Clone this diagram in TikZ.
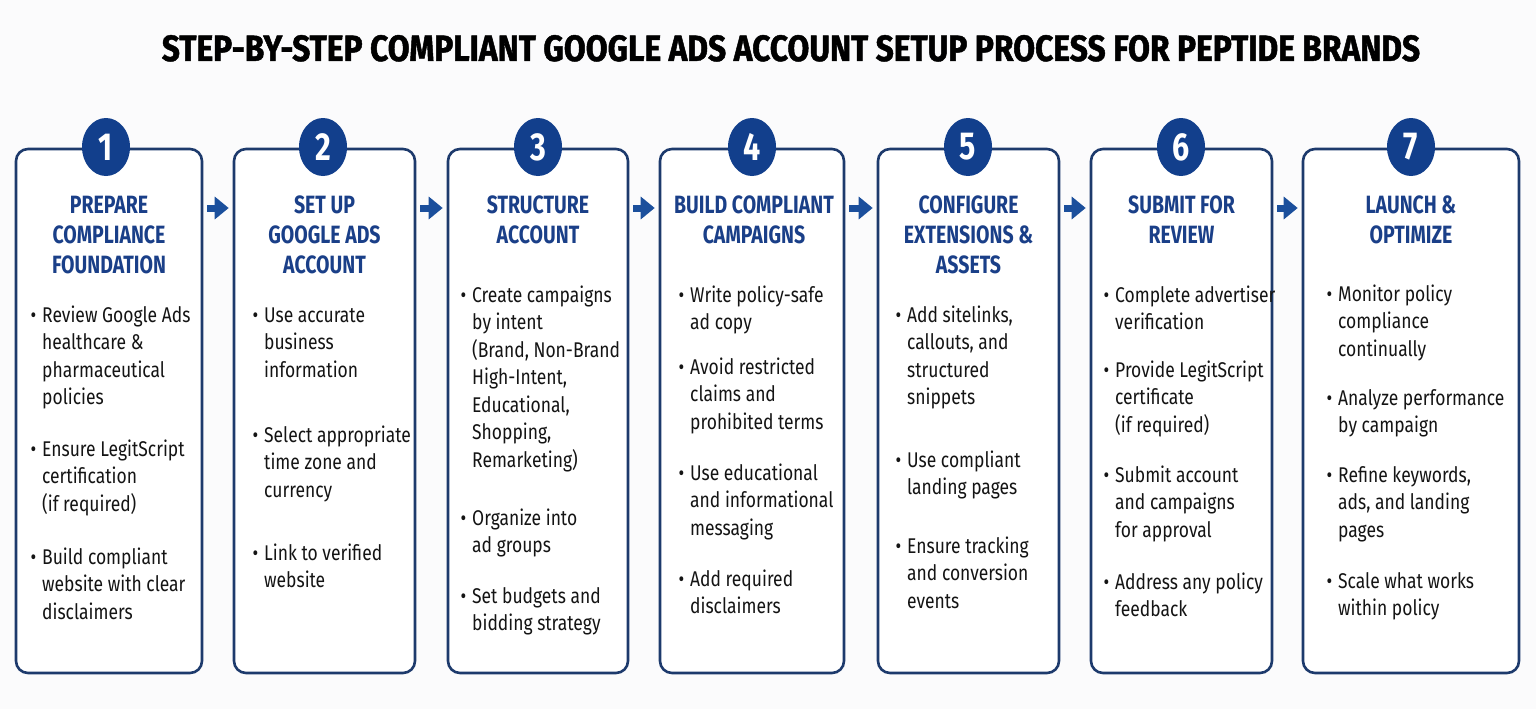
\documentclass[tikz,border=0pt]{standalone}
\usepackage{fontspec}
\usepackage{graphicx}
\usetikzlibrary{arrows.meta,shapes.geometric}
\setmainfont{Fira Sans}
\newfontfamily\headfont[FakeStretch=0.78]{Fira Sans}
\newfontfamily\titlefont[FakeStretch=0.78,FakeBold=1.2]{Fira Sans}
\newfontfamily\bodyfont[FakeStretch=0.82]{Fira Sans}
\definecolor{boxline}{HTML}{1D3A6C}
\definecolor{numblue}{HTML}{123F8C}
\definecolor{headblue}{HTML}{1A3F88}
\definecolor{arrowblue}{HTML}{1B4F9C}
\definecolor{bodyblack}{HTML}{141414}
\definecolor{bgcol}{HTML}{FBFBFC}
\newcommand{\bul}{\llap{\textbullet\hspace{6pt}}}
\tikzset{
  stepbox/.style={draw=boxline, line width=2.6pt, rounded corners=12pt, fill=white, minimum height=524pt, inner sep=0pt},
  num/.style={ellipse, fill=numblue, minimum width=48pt, minimum height=58pt, inner sep=0pt, text=white, font=\headfont\bfseries\fontsize{39}{39}\selectfont},
  head/.style={anchor=base, text=headblue, font=\headfont\bfseries\fontsize{25}{30}\selectfont, align=center, inner sep=0pt},
  item/.style={anchor=base west, text=bodyblack, font=\bodyfont\fontsize{21.3}{27.5}\selectfont, align=left, inner sep=0pt},
  flow/.style={draw=arrowblue, line width=7pt, -{Triangle[length=14pt, width=22pt]}},
}
\begin{document}
\begin{tikzpicture}[x=1pt, y=-1pt]
\fill[bgcol] (0,0) rectangle (1536,709);
\useasboundingbox (0,0) rectangle (1536,709);

\node[anchor=base] (title) at (791,61) {\resizebox{1258pt}{26pt}{\titlefont\bfseries STEP-BY-STEP COMPLIANT GOOGLE ADS ACCOUNT SETUP PROCESS FOR PEPTIDE BRANDS}};

% boxes
\node[stepbox, minimum width=186pt] (b1) at (109,411) {};
\node[stepbox, minimum width=181pt] (b2) at (324.5,411) {};
\node[stepbox, minimum width=180pt] (b3) at (538,411) {};
\node[stepbox, minimum width=184pt] (b4) at (752,411) {};
\node[stepbox, minimum width=181pt] (b5) at (968.5,411) {};
\node[stepbox, minimum width=181pt] (b6) at (1181.5,411) {};
\node[stepbox, minimum width=216pt] (b7) at (1411,411) {};

% number badges
\node[num] (n1) at (106,147) {1};
\node[num] (n2) at (323,147) {2};
\node[num] (n3) at (538,147) {3};
\node[num] (n4) at (752,147) {4};
\node[num] (n5) at (968,147) {5};
\node[num] (n6) at (1181,147) {6};
\node[num] (n7) at (1411,147) {7};

% arrows
\draw[flow] ([xshift=4pt,yshift=203pt]b1.east) -- ([xshift=-4pt,yshift=203pt]b2.west);
\draw[flow] ([xshift=4pt,yshift=203pt]b2.east) -- ([xshift=-4pt,yshift=203pt]b3.west);
\draw[flow] ([xshift=4pt,yshift=203pt]b3.east) -- ([xshift=-4pt,yshift=203pt]b4.west);
\draw[flow] ([xshift=4pt,yshift=203pt]b4.east) -- ([xshift=-4pt,yshift=203pt]b5.west);
\draw[flow] ([xshift=4pt,yshift=203pt]b5.east) -- ([xshift=-4pt,yshift=203pt]b6.west);
\draw[flow] ([xshift=4pt,yshift=203pt]b6.east) -- ([xshift=-4pt,yshift=203pt]b7.west);

% headings (anchor base = baseline of last line)
\node[head] (h1) at (109,273) {PREPARE\\COMPLIANCE\\FOUNDATION};
\node[head] (h2) at (324.5,273) {SET UP\\GOOGLE ADS\\ACCOUNT};
\node[head] (h3) at (538,243) {STRUCTURE\\ACCOUNT};
\node[head] (h4) at (754,243) {BUILD COMPLIANT\\CAMPAIGNS};
\node[head] (h5) at (968.5,273) {CONFIGURE\\EXTENSIONS \&\\ASSETS};
\node[head] (h6) at (1181.5,243) {SUBMIT FOR\\REVIEW};
\node[head] (h7) at (1411,243) {LAUNCH \&\\OPTIMIZE};

% box 1
\node[item] (i11) at (42,404.5) {\bul Review Google Ads\\healthcare \&\\pharmaceutical\\policies};
\node[item] (i12) at (42,511) {\bul Ensure LegitScript\\certification\\(if required)};
\node[item] (i13) at (42,619) {\bul Build compliant\\website with clear\\disclaimers};
% box 2
\node[item] (i21) at (264,377) {\bul Use accurate\\business\\information};
\node[item] (i22) at (264,497) {\bul Select appropriate\\time zone and\\currency};
\node[item] (i23) at (264,587.5) {\bul Link to verified\\website};
% box 3
\node[item] (i31) at (472,467) {\bul Create campaigns\\by intent\\(Brand, Non-Brand\\High-Intent,\\Educational,\\Shopping,\\Remarketing)};
\node[item] (i32) at (472,552.5) {\bul Organize into\\ad groups};
\node[item] (i33) at (472,630.5) {\bul Set budgets and\\bidding strategy};
% box 4
\node[item] (i41) at (690,329.5) {\bul Write policy-safe\\ad copy};
\node[item] (i42) at (690,429) {\bul Avoid restricted\\claims and\\prohibited terms};
\node[item] (i43) at (690,535) {\bul Use educational\\and informational\\messaging};
\node[item] (i44) at (690,613.5) {\bul Add required\\disclaimers};
% box 5
\node[item] (i51) at (907,404.5) {\bul Add sitelinks,\\callouts, and\\structured\\snippets};
\node[item] (i52) at (907,494.5) {\bul Use compliant\\landing pages};
\node[item] (i53) at (907,608) {\bul Ensure tracking\\and conversion\\events};
% box 6
\node[item] (i61) at (1115,329.5) {\bul Complete advertiser\\verification};
\node[item] (i62) at (1115,432) {\bul Provide LegitScript\\certificate\\(if required)};
\node[item] (i63) at (1115,537) {\bul Submit account\\and campaigns\\for approval};
\node[item] (i64) at (1115,616.5) {\bul Address any policy\\feedback};
% box 7
\node[item] (i71) at (1338,356) {\bul Monitor policy\\compliance\\continually};
\node[item] (i72) at (1338,432.5) {\bul Analyze performance\\by campaign};
\node[item] (i73) at (1338,537) {\bul Refine keywords,\\ads, and landing\\pages};
\node[item] (i74) at (1338,615.5) {\bul Scale what works\\within policy};
\end{tikzpicture}
\end{document}
